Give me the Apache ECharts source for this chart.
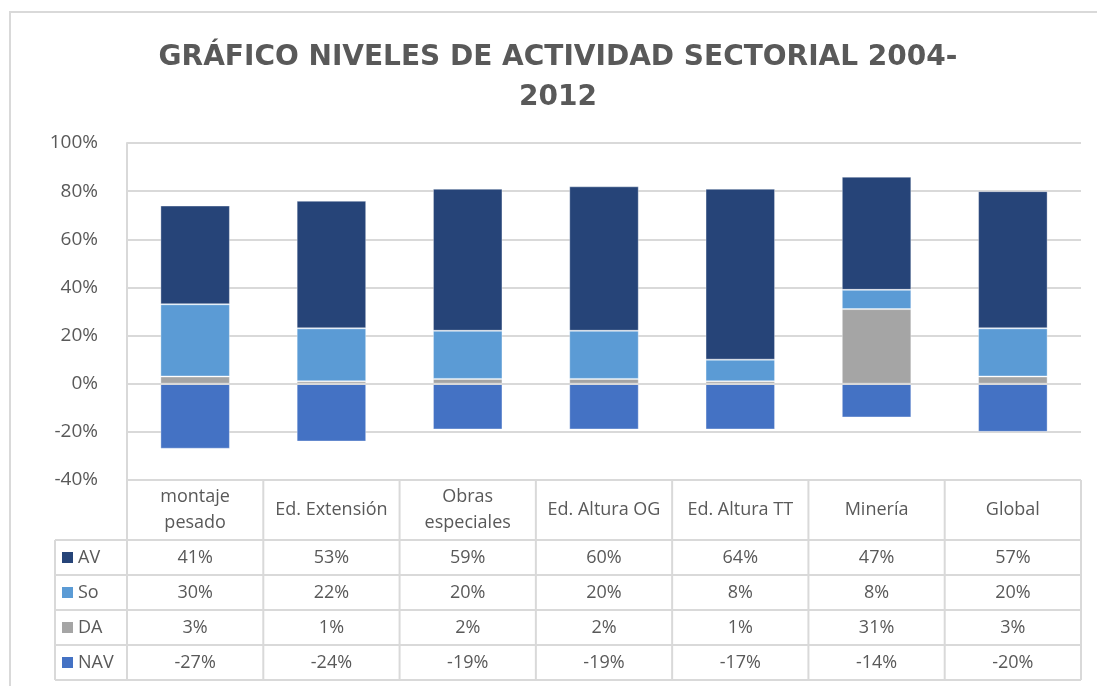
<!DOCTYPE html>
<html>
<head>
<meta charset="utf-8">
<script src="https://cdn.jsdelivr.net/npm/echarts@6/dist/echarts.min.js"></script>
<style>
  html, body { margin: 0; padding: 0; background: #fff; }
  #main { width: 1097px; height: 686px; }
</style>
</head>
<body>
<div id="main"></div>
<script>
var categories = ['montaje\npesado', 'Ed. Extensión', 'Obras\nespeciales', 'Ed. Altura OG', 'Ed. Altura TT', 'Minería', 'Global'];
var avValues = [41, 53, 59, 60, 71, 47, 57];
var soValues = [30, 22, 20, 20, 9, 8, 20];
var daValues = [3, 1, 2, 2, 1, 31, 3];
var navValues = [-27, -24, -19, -19, -19, -14, -20];

// text of the data table under the chart
var avLabels = ['41%', '53%', '59%', '60%', '64%', '47%', '57%'];
var soLabels = ['30%', '22%', '20%', '20%', '8%', '8%', '20%'];
var daLabels = ['3%', '1%', '2%', '2%', '1%', '31%', '3%'];
var navLabels = ['-27%', '-24%', '-19%', '-19%', '-17%', '-14%', '-20%'];

var colors = { AV: '#264478', So: '#5b9bd5', DA: '#a5a5a5', NAV: '#4472c4' };
var tableRows = [
  { name: 'AV', labels: avLabels },
  { name: 'So', labels: soLabels },
  { name: 'DA', labels: daLabels },
  { name: 'NAV', labels: navLabels }
];

var font = 'Open Sans';
var textGray = '#595959';
var lineGray = '#d9d9d9';

var myChart = echarts.init(document.getElementById('main'), null, { renderer: 'canvas' });

function barSeries(name, data) {
  return {
    name: name,
    type: 'bar',
    stack: 'total',
    barWidth: '51%',
    data: data,
    itemStyle: { color: colors[name], borderColor: 'rgba(255,255,255,0.35)', borderWidth: 1 }
  };
}

var navSeries = barSeries('NAV', navValues);
navSeries.markLine = {
  silent: true,
  symbol: 'none',
  label: { show: false },
  lineStyle: { color: lineGray, width: 2, type: 'solid' },
  data: [{ yAxis: 0 }]
};

var option = {
  animation: false,
  textStyle: { fontFamily: font },
  title: {
    text: 'GRÁFICO NIVELES DE ACTIVIDAD SECTORIAL 2004-\n2012',
    left: 553,
    top: 33,
    textAlign: 'center',
    textStyle: {
      fontFamily: 'DejaVu Sans',
      fontSize: 28,
      fontWeight: 'bold',
      color: textGray,
      lineHeight: 40
    }
  },
  grid: { left: 127, top: 143, width: 954, height: 337 },
  xAxis: {
    type: 'category',
    data: categories,
    axisLine: { show: false, onZero: false },
    axisTick: { show: false },
    axisLabel: {
      margin: 30,
      fontSize: 18,
      lineHeight: 26,
      color: textGray,
      fontFamily: font,
      verticalAlign: 'middle',
      interval: 0
    }
  },
  yAxis: {
    type: 'value',
    min: -40,
    max: 100,
    interval: 20,
    axisLine: { show: true, lineStyle: { color: lineGray, width: 2 } },
    axisTick: { show: false },
    splitLine: { lineStyle: { color: lineGray, width: 2 } },
    axisLabel: {
      margin: 29,
      fontSize: 19,
      color: textGray,
      fontFamily: font,
      formatter: '{value}%'
    }
  },
  series: [
    barSeries('DA', daValues),
    barSeries('So', soValues),
    barSeries('AV', avValues),
    navSeries
  ]
};

myChart.setOption(option);

// data table drawn under the plot, aligned on the category axis
var x0 = myChart.convertToPixel({ xAxisIndex: 0 }, 0);
var x1 = myChart.convertToPixel({ xAxisIndex: 0 }, 1);
var colW = x1 - x0;
var tableLeft = 55;
var gridRight = 1081;
var headTop = 480;
var rowTop = 540;
var rowH = 35;
var lineStyle = { stroke: lineGray, lineWidth: 2 };
var elements = [];

// outer chart frame
elements.push({ type: 'rect', shape: { x: 10, y: 12, width: 1100, height: 700 }, style: { fill: null, stroke: lineGray, lineWidth: 2 }, silent: true });

for (var c = 0; c <= categories.length; c++) {
  var bx = c === categories.length ? gridRight : x0 - colW / 2 + c * colW;
  elements.push({ type: 'line', shape: { x1: bx, y1: headTop, x2: bx, y2: rowTop + rowH * tableRows.length }, style: lineStyle, silent: true });
}
elements.push({ type: 'line', shape: { x1: tableLeft, y1: rowTop, x2: tableLeft, y2: rowTop + rowH * tableRows.length }, style: lineStyle, silent: true });
for (var r = 0; r <= tableRows.length; r++) {
  var ly = rowTop + r * rowH;
  elements.push({ type: 'line', shape: { x1: tableLeft, y1: ly, x2: gridRight, y2: ly }, style: lineStyle, silent: true });
}

tableRows.forEach(function (row, r) {
  var cy = rowTop + r * rowH + rowH / 2;
  elements.push({ type: 'rect', shape: { x: 62, y: cy - 5.5, width: 11, height: 11 }, style: { fill: colors[row.name] }, silent: true });
  elements.push({
    type: 'text', x: 78, y: cy,
    style: { text: row.name, font: '18px "Open Sans"', fill: textGray, verticalAlign: 'middle' },
    silent: true
  });
  row.labels.forEach(function (txt, c) {
    elements.push({
      type: 'text',
      x: myChart.convertToPixel({ xAxisIndex: 0 }, c),
      y: cy,
      style: { text: txt, font: '18px "Open Sans"', fill: textGray, align: 'center', verticalAlign: 'middle' },
      silent: true
    });
  });
});

myChart.setOption({ graphic: { elements: elements } });
</script>
</body>
</html>
